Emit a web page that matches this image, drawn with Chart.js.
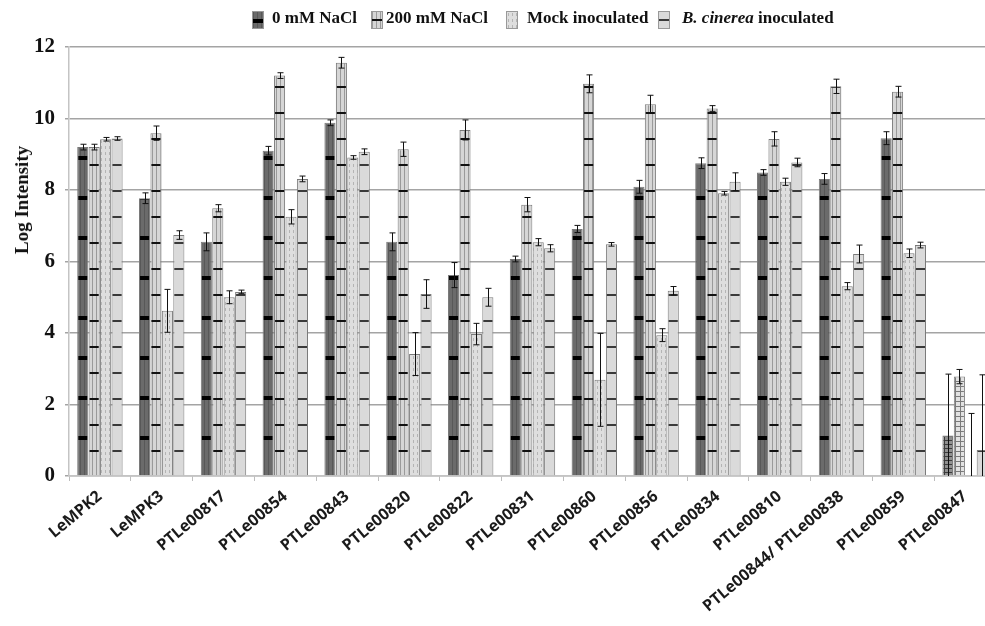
<!DOCTYPE html>
<html>
<head>
<meta charset="utf-8">
<script src="https://cdn.jsdelivr.net/npm/chart.js@4.4.1/dist/chart.umd.min.js"></script>
<style>
    html, body { margin: 0; padding: 0; background: #fff; overflow: hidden; }
    #wrap { position: relative; width: 985px; height: 626px; overflow: hidden; }
    #legend { position: absolute; top: 6px; left: 0; width: 985px; height: 24px;
              font: bold 17px "Liberation Serif", serif; color: #111; }
    #legend span.item { position: absolute; top: 2px; white-space: nowrap; }
    #legend canvas { position: absolute; top: 5px; border: 1px solid #999; }
    #ytitle { position: absolute; left: 22px; top: 200px; transform: translate(-50%, -50%) rotate(-90deg);
              font: bold 19px "Liberation Serif", serif; color: #111; white-space: nowrap; }
</style>
</head>
<body>
<div id="wrap">
    <canvas id="chart" width="996" height="626"></canvas>
    <div id="legend"></div>
    <div id="ytitle">Log Intensity</div>
</div>
<script>
// ===============================
// DATA
// ===============================

const genes = ['LeMPK2', 'LeMPK3', 'PTLe00817', 'PTLe00854', 'PTLe00843', 'PTLe00820', 'PTLe00822',
    'PTLe00831', 'PTLe00860', 'PTLe00856', 'PTLe00834', 'PTLe00810', 'PTLe00844/ PTLe00838',
    'PTLe00859', 'PTLe00847'];

const seriesNames = ['0 mM NaCl', '200 mM NaCl', 'Mock inoculated', 'B. cinerea inoculated'];

const nacl0   = [9.2, 7.77, 6.55, 9.1, 9.88, 6.55, 5.62, 6.07, 6.91, 8.09, 8.75, 8.49, 8.31, 9.45, 1.13];
const nacl200 = [9.2, 9.59, 7.49, 11.2, 11.56, 9.14, 9.68, 7.59, 10.97, 10.4, 10.28, 9.43, 10.9, 10.75, 2.78];
const mock    = [9.42, 4.62, 5.0, 7.25, 8.91, 3.41, 3.97, 6.54, 2.69, 3.94, 7.91, 8.23, 5.31, 6.23, 0];
const bcin    = [9.44, 6.74, 5.15, 8.31, 9.07, 5.09, 5.0, 6.37, 6.48, 5.18, 8.23, 8.77, 6.21, 6.46, 0.73];

const err0    = [0.08, 0.15, 0.25, 0.12, 0.08, 0.25, 0.35, 0.08, 0.1, 0.18, 0.15, 0.08, 0.15, 0.18, 1.72];
const err200  = [0.08, 0.2, 0.1, 0.08, 0.15, 0.2, 0.28, 0.2, 0.25, 0.25, 0.08, 0.2, 0.2, 0.15, 0.2];
const errMock = [0.05, 0.6, 0.18, 0.2, 0.05, 0.6, 0.3, 0.1, 1.3, 0.18, 0.05, 0.1, 0.1, 0.12, 1.75];
const errBc   = [0.05, 0.12, 0.05, 0.08, 0.08, 0.4, 0.25, 0.1, 0.05, 0.12, 0.25, 0.12, 0.25, 0.08, 2.1];

const yTicks = [0, 2, 4, 6, 8, 10, 12];


// ===============================
// PATTERN FILLS
// ===============================

const tiles = {
    dark: { w: 4, h: 40, draw(g) {
        g.fillStyle = '#6b6b6b'; g.fillRect(0, 0, 4, 40);
        g.fillStyle = '#585858'; g.fillRect(0, 0, 1, 40);
        g.fillStyle = '#000'; g.fillRect(0, 0, 4, 4);
    } },
    vlines: { w: 4, h: 26, draw(g) {
        g.fillStyle = '#d6d6d6'; g.fillRect(0, 0, 4, 26);
        g.fillStyle = '#9a9a9a'; g.fillRect(0, 0, 1, 26);
        g.fillStyle = '#111'; g.fillRect(0, 0, 4, 2);
    } },
    dotted: { w: 4, h: 6, draw(g) {
        g.fillStyle = '#dedede'; g.fillRect(0, 0, 4, 6);
        g.fillStyle = '#b4b4b4'; g.fillRect(1, 0, 1, 3);
    } },
    hlines: { w: 4, h: 26, draw(g) {
        g.fillStyle = '#dadada'; g.fillRect(0, 0, 4, 26);
        g.fillStyle = '#3a3a3a'; g.fillRect(0, 0, 4, 2);
    } },
    darkGrid: { w: 4, h: 4, draw(g) {
        g.fillStyle = '#909090'; g.fillRect(0, 0, 4, 4);
        g.fillStyle = '#3c3c3c'; g.fillRect(0, 0, 4, 1); g.fillRect(0, 0, 1, 4);
    } },
    lightGrid: { w: 5, h: 5, draw(g) {
        g.fillStyle = '#e2e2e2'; g.fillRect(0, 0, 5, 5);
        g.fillStyle = '#7a7a7a'; g.fillRect(0, 0, 5, 1); g.fillRect(0, 0, 1, 5);
    } }
};

function tileCanvas(t) {
    const c = document.createElement('canvas');
    c.width = t.w; c.height = t.h;
    t.draw(c.getContext('2d'));
    return c;
}

const ctx = document.getElementById('chart').getContext('2d');

function pattern(name) {
    const p = ctx.createPattern(tileCanvas(tiles[name]), 'repeat');
    p.setTransform(new DOMMatrix().translate(0, 476));
    return p;
}

function perBar(main, last) {
    return genes.map((g, i) => i === genes.length - 1 ? last : main);
}

const fills = [
    perBar(pattern('dark'), pattern('darkGrid')),
    perBar(pattern('vlines'), pattern('lightGrid')),
    perBar(pattern('dotted'), pattern('dotted')),
    perBar(pattern('hlines'), pattern('hlines'))
];

const legendTiles = ['dark', 'vlines', 'dotted', 'hlines'];


// ===============================
// LEGEND (html, for the italic name)
// ===============================

const legendPos = [[252, 272], [371, 386], [506, 527], [658, 682]];
const legendEl = document.getElementById('legend');

seriesNames.forEach((name, i) => {
    const sw = document.createElement('canvas');
    sw.width = 10; sw.height = 16;
    const g = sw.getContext('2d');
    g.fillStyle = g.createPattern(tileCanvas(tiles[legendTiles[i]]), 'repeat');
    g.translate(0, 7);
    g.fillRect(0, -7, 10, 16);
    sw.style.left = legendPos[i][0] + 'px';
    legendEl.appendChild(sw);

    const s = document.createElement('span');
    s.className = 'item';
    s.style.left = legendPos[i][1] + 'px';
    if (name.startsWith('B. cinerea')) {
        s.innerHTML = '<i>B. cinerea</i> inoculated';
    } else {
        s.textContent = name;
    }
    legendEl.appendChild(s);
});


// ===============================
// ERROR BARS
// ===============================

const errorSets = [err0, err200, errMock, errBc];

const errorBars = {
    id: 'errorBars',
    afterDatasetsDraw(chart) {
        const c = chart.ctx;
        const area = chart.chartArea;
        const y = chart.scales.y;
        c.save();
        c.beginPath();
        c.rect(area.left, area.top - 10, area.right - area.left, area.bottom - area.top + 10);
        c.clip();
        c.strokeStyle = '#111';
        c.lineWidth = 1;
        chart.data.datasets.forEach((ds, i) => {
            const meta = chart.getDatasetMeta(i);
            meta.data.forEach((bar, j) => {
                const e = errorSets[i][j];
                if (!e) return;
                const v = ds.data[j];
                const x = Math.round(bar.x) + 0.5;
                const yt = y.getPixelForValue(v + e);
                const yb = y.getPixelForValue(v - e);
                c.beginPath();
                c.moveTo(x, yt); c.lineTo(x, yb);
                c.moveTo(x - 3, yt); c.lineTo(x + 3, yt);
                c.moveTo(x - 3, yb); c.lineTo(x + 3, yb);
                c.stroke();
            });
        });
        c.restore();
    }
};


// ===============================
// CHART SETUP
// ===============================

const values = [nacl0, nacl200, mock, bcin];

new Chart(ctx, {
    type: 'bar',
    data: {
        labels: genes,
        datasets: seriesNames.map((name, i) => ({
            label: name,
            data: values[i],
            backgroundColor: fills[i],
            borderColor: '#7a7a7a',
            borderWidth: 1,
            categoryPercentage: 0.74,
            barPercentage: 0.97
        }))
    },
    options: {
        responsive: false,
        animation: false,
        devicePixelRatio: 1,
        layout: { padding: { top: 47, right: 0, bottom: 0, left: 0 } },
        plugins: {
            legend: { display: false },
            tooltip: { enabled: false }
        },
        scales: {
            x: {
                afterFit(scale) { scale.height = 150; },
                grid: { display: true, drawOnChartArea: false, color: '#bdbdbd', tickLength: 5 },
                border: { color: '#c4c4c4', width: 1.5 },
                ticks: {
                    autoSkip: false,
                    minRotation: 40,
                    maxRotation: 40,
                    padding: 6,
                    color: '#1a1a1a',
                    font: { family: 'Open Sans', weight: 'bold', size: 16 }
                }
            },
            y: {
                min: 0,
                max: 12,
                afterFit(scale) { scale.width = 69; },
                afterBuildTicks(scale) { scale.ticks = yTicks.map(v => ({ value: v })); },
                grid: { color: '#a4a4a4', lineWidth: 1.5, tickLength: 4 },
                border: { color: '#c4c4c4', width: 1.5 },
                ticks: {
                    padding: 10,
                    color: '#111',
                    font: { family: 'Liberation Serif', weight: 'bold', size: 21 }
                }
            }
        }
    },
    plugins: [errorBars]
});
</script>
</body>
</html>
